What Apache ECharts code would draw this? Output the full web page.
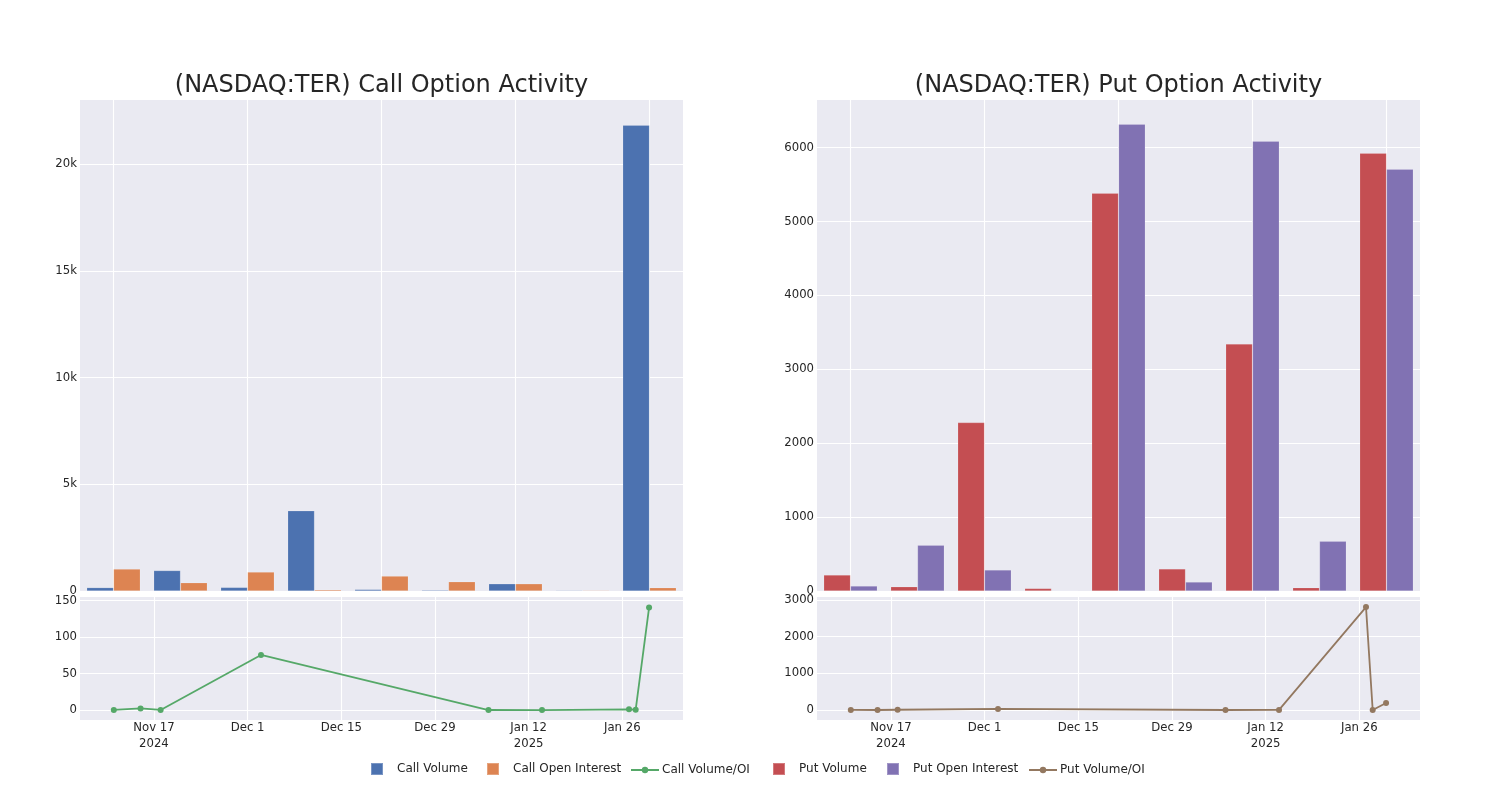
<!DOCTYPE html>
<html>
<head>
<meta charset="utf-8">
<script src="https://cdn.jsdelivr.net/npm/echarts@6/dist/echarts.min.js"></script>
<style>
html,body{margin:0;padding:0;background:#ffffff;}
#chart{width:1500px;height:800px;}
</style>
</head>
<body>
<div id="chart"></div>
<script>
// ---- data ----
const barCategories = ['2024-11-11','2024-11-15','2024-11-18','2024-12-03','2025-01-06','2025-01-14','2025-01-27','2025-01-28','2025-01-30'];
const callVolume = [160, 960, 170, 3760, 75, 45, 340, 35, 21820];
const callOpenInterest = [1030, 390, 890, 60, 700, 435, 340, 35, 155];
const putVolume = [217, 58, 2280, 35, 5383, 299, 3343, 45, 5925];
const putOpenInterest = [68, 619, 285, 1, 6318, 122, 6088, 673, 5708];

const lineDates = ['2024-11-11','2024-11-15','2024-11-18','2024-12-03','2025-01-06','2025-01-14','2025-01-27','2025-01-28','2025-01-30'];
const callVolumeOI = [0.16, 2.3, 0.19, 75.5, 0.09, 0.07, 1, 0.5, 140.5];
const putVolumeOI = [3.2, 0.1, 8, 30, 0.9, 2.5, 2807, 0.1, 191];

const dateTickValues = ['2024-11-17','2024-12-01','2024-12-15','2024-12-29','2025-01-12','2025-01-26'];
const dateTickLabels = ['Nov 17\n2024','Dec 1','Dec 15','Dec 29','Jan 12\n2025','Jan 26'];
const barGridTickIdx = [0, 2, 4, 6, 8];

const callBarYTicks = [0, 5000, 10000, 15000, 20000];
const callBarYLabels = ['0', '5k', '10k', '15k', '20k'];
const putBarYTicks = [0, 1000, 2000, 3000, 4000, 5000, 6000];
const putBarYLabels = ['0', '1000', '2000', '3000', '4000', '5000', '6000'];
const callLineYTicks = [0, 50, 100, 150];
const callLineYLabels = ['0', '50', '100', '150'];
const putLineYTicks = [0, 1000, 2000, 3000];
const putLineYLabels = ['0', '1000', '2000', '3000'];

// ---- helpers ----
function ts(s) { const p = s.split('-').map(Number); return Date.UTC(p[0], p[1] - 1, p[2]); }
const DAY = 86400000;
const tMin = ts('2024-11-17') - 11.05 * DAY;
const tMax = ts('2025-01-26') + 9.07 * DAY;
const dateTickTs = dateTickValues.map(ts);

const C = {
  blue: '#4C72B0', orange: '#DD8452', green: '#55A868',
  red: '#C44E52', purple: '#8172B3', brown: '#937860',
  bg: '#EAEAF2', text: '#262626'
};
const FONT = 'DejaVu Sans';

function lookupFmt(vals, labels) {
  return function (v) { const i = vals.indexOf(v); return i >= 0 ? labels[i] : ''; };
}
function yAxis(gridIndex, min, max, vals, labels) {
  return {
    type: 'value', gridIndex, min, max,
    axisLine: { show: false }, axisTick: { show: false, customValues: vals },
    axisLabel: { customValues: vals, formatter: lookupFmt(vals, labels), color: C.text, fontFamily: FONT, fontSize: 11.7, margin: 3 },
    splitLine: { show: true, lineStyle: { color: '#ffffff', width: 1.1 } }
  };
}
function barX(gridIndex) {
  return {
    type: 'value', gridIndex, min: -0.5, max: 8.5,
    axisLine: { show: false }, axisTick: { show: false, customValues: barGridTickIdx },
    axisLabel: { show: false, customValues: barGridTickIdx },
    splitLine: { show: true, lineStyle: { color: '#ffffff', width: 1.1 } }
  };
}
function lineX(gridIndex) {
  return {
    type: 'value', gridIndex, min: tMin, max: tMax,
    axisLine: { show: false }, axisTick: { show: false, customValues: dateTickTs },
    axisLabel: { customValues: dateTickTs, formatter: lookupFmt(dateTickTs, dateTickLabels), color: C.text, fontFamily: FONT, fontSize: 11.7, lineHeight: 16, margin: 0 },
    splitLine: { show: true, lineStyle: { color: '#ffffff', width: 1.1 } }
  };
}
function barSeries(name, vals, color, xi, yi) {
  return {
    name, type: 'bar', xAxisIndex: xi, yAxisIndex: yi,
    data: vals.map((v, i) => [i, v]),
    barGap: '0%', barCategoryGap: '20%',
    itemStyle: { color, borderColor: 'rgba(255,255,255,0.25)', borderWidth: 0.6 },
    animation: false
  };
}
function lineSeries(name, vals, color, xi, yi) {
  return {
    name, type: 'line', xAxisIndex: xi, yAxisIndex: yi,
    data: lineDates.map((d, i) => [ts(d), vals[i]]),
    symbol: 'circle', symbolSize: 6, showSymbol: true,
    lineStyle: { color, width: 1.8 }, itemStyle: { color },
    animation: false
  };
}
function legendItem(name, left, isLine) {
  return {
    data: [name], left, top: isLine ? 764 : 762, padding: 0,
    itemWidth: isLine ? 28 : 12, itemHeight: isLine ? 8 : 12,
    icon: isLine ? undefined : 'rect',
    selectedMode: false,
    textStyle: { color: C.text, fontFamily: FONT, fontSize: 12, padding: isLine ? [0, 0, 0, -2] : [0, 0, 0, 9] }
  };
}

const option = {
  backgroundColor: '#ffffff',
  animation: false,
  title: [
    { text: '(NASDAQ:TER) Call Option Activity', left: 376.5, top: 69, textAlign: 'center',
      textStyle: { color: C.text, fontFamily: FONT, fontSize: 24, fontWeight: 'normal' } },
    { text: '(NASDAQ:TER) Put Option Activity', left: 1113.5, top: 69, textAlign: 'center',
      textStyle: { color: C.text, fontFamily: FONT, fontSize: 24, fontWeight: 'normal' } }
  ],
  grid: [
    { left: 80, top: 100, width: 603, height: 491, show: true, backgroundColor: C.bg, borderWidth: 0 },
    { left: 80, top: 597, width: 603, height: 123, show: true, backgroundColor: C.bg, borderWidth: 0 },
    { left: 817, top: 100, width: 603, height: 491, show: true, backgroundColor: C.bg, borderWidth: 0 },
    { left: 817, top: 597, width: 603, height: 123, show: true, backgroundColor: C.bg, borderWidth: 0 }
  ],
  xAxis: [barX(0), lineX(1), barX(2), lineX(3)],
  yAxis: [
    yAxis(0, 0, 23000, callBarYTicks, callBarYLabels),
    yAxis(1, -13.6, 155, callLineYTicks, callLineYLabels),
    yAxis(2, 0, 6645, putBarYTicks, putBarYLabels),
    yAxis(3, -272, 3082, putLineYTicks, putLineYLabels)
  ],
  legend: [
    legendItem('Call Volume', 370, false),
    legendItem('Call Open Interest', 486, false),
    legendItem('Call Volume/OI', 630, true),
    legendItem('Put Volume', 772, false),
    legendItem('Put Open Interest', 886, false),
    legendItem('Put Volume/OI', 1028, true)
  ],
  series: [
    barSeries('Call Volume', callVolume, C.blue, 0, 0),
    barSeries('Call Open Interest', callOpenInterest, C.orange, 0, 0),
    lineSeries('Call Volume/OI', callVolumeOI, C.green, 1, 1),
    barSeries('Put Volume', putVolume, C.red, 2, 2),
    barSeries('Put Open Interest', putOpenInterest, C.purple, 2, 2),
    lineSeries('Put Volume/OI', putVolumeOI, C.brown, 3, 3)
  ]
};

const chart = echarts.init(document.getElementById('chart'), null, { renderer: 'canvas' });
chart.setOption(option);
</script>
</body>
</html>
